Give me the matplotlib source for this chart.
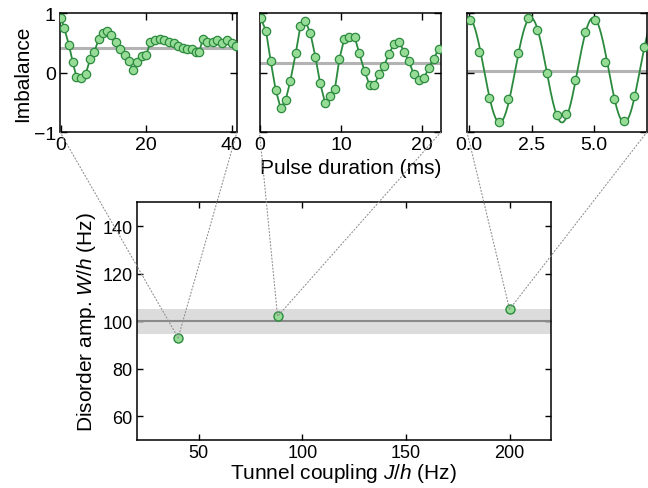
import numpy as np
import matplotlib
matplotlib.use('Agg')
import matplotlib.pyplot as plt
from matplotlib.patches import ConnectionPatch

plt.rcParams['font.family'] = ['Liberation Sans', 'DejaVu Sans']
plt.rcParams['mathtext.fontset'] = 'custom'
plt.rcParams['mathtext.rm'] = 'Liberation Sans'
plt.rcParams['mathtext.it'] = 'Liberation Sans:italic'

# top panels: imbalance vs pulse duration (ms)
t_a = [0.07, 0.85, 1.94, 2.8, 3.66, 4.75, 5.84, 6.85, 7.87, 8.88, 9.82, 10.75, 11.84,
       12.94, 13.87, 14.96, 15.97, 16.99, 17.93, 18.94, 19.96, 20.97, 22.06, 23.15,
       24.24, 25.33, 26.42, 27.51, 28.6, 29.6, 30.62, 31.7, 32.35, 33.2, 34.3, 35.55,
       36.64, 37.81, 38.9, 40.14, 41.0]
imb_a = [0.92, 0.74, 0.46, 0.18, -0.07, -0.09, -0.03, 0.22, 0.35, 0.56, 0.66, 0.69, 0.63,
         0.51, 0.40, 0.30, 0.19, 0.04, 0.18, 0.27, 0.29, 0.51, 0.54, 0.57,
         0.54, 0.51, 0.49, 0.45, 0.41, 0.39, 0.39, 0.35, 0.34, 0.56, 0.51, 0.52,
         0.54, 0.49, 0.54, 0.50, 0.44]

t_b = [0.1, 0.74, 1.32, 1.93, 2.55, 3.17, 3.74, 4.40, 4.98, 5.60, 6.21, 6.83, 7.41,
       8.02, 8.60, 9.22, 9.79, 10.37, 10.99, 11.65, 12.22, 12.88, 13.50, 14.07,
       14.69, 15.27, 15.89, 16.51, 17.16, 17.74, 18.36, 18.93, 19.55, 20.17, 20.78,
       21.40, 22.02]
imb_b = [0.91, 0.70, 0.19, -0.29, -0.60, -0.46, -0.14, 0.32, 0.78, 0.86, 0.66, 0.26, -0.18,
         -0.51, -0.40, -0.28, 0.23, 0.56, 0.59, 0.60, 0.33, 0.02, -0.21, -0.21,
         -0.03, 0.11, 0.31, 0.48, 0.51, 0.35, 0.19, -0.03, -0.12, -0.10, 0.07,
         0.23, 0.40]

t_c = [0.03, 0.40, 0.79, 1.18, 1.56, 1.94, 2.34, 2.71, 3.10, 3.50, 3.88, 4.26, 4.65,
       5.05, 5.43, 5.82, 6.22, 6.60, 7.01]
imb_c = [0.88, 0.35, -0.43, -0.83, -0.45, 0.33, 0.92, 0.72, -0.01, -0.71, -0.70, -0.12, 0.68,
         0.89, 0.18, -0.45, -0.81, -0.40, 0.43]

# fitted oscillation for the right panel
fit_offset = 0.04
fit_amp = 0.88
fit_period = 2.5
fit_t0 = -0.03

mean_levels = [0.42, 0.16, 0.03]
xlims = [(-0.16, 41.2), (-0.06, 22.3), (-0.09, 7.13)]
xticks = [[0, 20, 40], [0, 10, 20], [0.0, 2.5, 5.0]]
xticklabels = [['0', '20', '40'], ['0', '10', '20'], ['0.0', '2.5', '5.0']]

# bottom panel
tunnel_J = [40, 88, 200]
disorder_W = [93, 102, 105]
W_nominal = 100
W_band = (94.5, 105)

dark_green = '#2b8a3e'
light_green = '#96dc96'

fig = plt.figure(figsize=(6.48, 4.89), dpi=100)

top_pos = [
    [60 / 648, 1 - 133 / 489, 177 / 648, 119 / 489],
    [259.5 / 648, 1 - 133 / 489, 181.5 / 648, 119 / 489],
    [467 / 648, 1 - 133 / 489, 180 / 648, 119 / 489],
]
tops = [fig.add_axes(p) for p in top_pos]
ax = fig.add_axes([136.7 / 648, 1 - 441 / 489, 414.3 / 648, 237.7 / 489])

data = [(t_a, imb_a), (t_b, imb_b), (t_c, imb_c)]
for i, a in enumerate(tops):
    t, y = data[i]
    a.axhline(mean_levels[i], color='#b3b3b3', lw=2.2, zorder=1)
    if i == 2:
        tt = np.linspace(0, 7.2, 400)
        yy = fit_offset + fit_amp * np.cos(2 * np.pi * (tt - fit_t0) / fit_period)
        a.plot(tt, yy, color=dark_green, lw=1.3, zorder=2)
        a.plot(t, y, 'o', ms=6, mfc=light_green, mec=dark_green, mew=0.9, zorder=3)
    else:
        a.plot(t, y, '-o', color=dark_green, lw=1.3, ms=6, mfc=light_green,
               mec=dark_green, mew=0.9, zorder=3)
    a.set_xlim(*xlims[i])
    a.set_ylim(-1, 1)
    a.set_xticks(xticks[i])
    a.set_xticklabels(xticklabels[i])
    a.set_yticks([-1, 0, 1])
    a.tick_params(direction='in', top=True, right=True, length=5, width=1,
                  labelsize=14, pad=3)
    if i > 0:
        a.set_yticklabels([])
    for s in a.spines.values():
        s.set_linewidth(1.1)

tops[0].set_ylabel('Imbalance', fontsize=15, labelpad=1)
fig.text(350.5 / 648, 1 - 168 / 489, 'Pulse duration (ms)', fontsize=15,
         ha='center', va='center')

ax.axhspan(W_band[0], W_band[1], color='#dcdcdc', lw=0, zorder=1)
ax.axhline(W_nominal, color='#8a8a8a', lw=1.5, zorder=2)
ax.plot(tunnel_J, disorder_W, 'o', ms=6.5, mfc=light_green, mec=dark_green, mew=1.0, zorder=4)
ax.set_xlim(20, 220)
ax.set_ylim(50, 150)
ax.set_xticks([50, 100, 150, 200])
ax.set_yticks([60, 80, 100, 120, 140])
ax.tick_params(direction='in', top=True, right=True, length=4.5, width=1,
               labelsize=13, pad=3)
for s in ax.spines.values():
    s.set_linewidth(1.1)
ax.set_xlabel('Tunnel coupling $J$/$h$ (Hz)', fontsize=15, labelpad=0)
ax.set_ylabel('Disorder amp. $W$/$h$ (Hz)', fontsize=15, labelpad=3)

# dotted guide lines from each top panel to its point
for i, a in enumerate(tops):
    for corner in [(0, 0), (1, 0)]:
        con = ConnectionPatch(xyA=corner, coordsA=a.transAxes,
                              xyB=(tunnel_J[i], disorder_W[i]), coordsB=ax.transData,
                              color='#909090', lw=0.8, ls=(0, (1, 2)), zorder=5)
        fig.add_artist(con)

fig.savefig('out.png', dpi=100)
